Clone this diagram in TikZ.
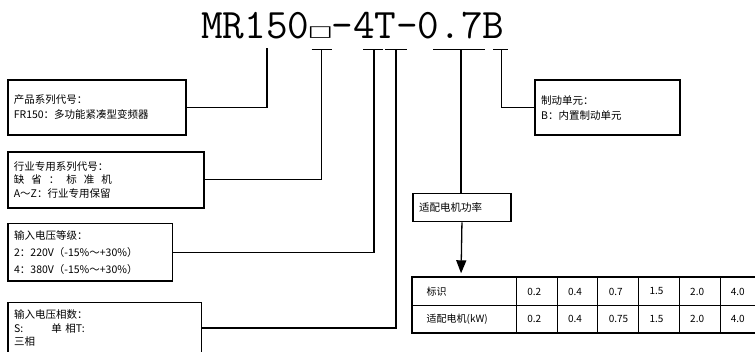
\documentclass[tikz,border=0pt]{standalone}
\usepackage{fontspec}
\newfontfamily\cjkfont{Noto Sans CJK SC}
\newfontfamily\symfont{DejaVu Sans}
\usetikzlibrary{arrows.meta, positioning}

\tikzset{
    infobox/.style={draw, line width=1.6pt, anchor=north west, inner xsep=6pt, inner ysep=0pt, align=left, font=\cjkfont\fontsize{10.5}{15}\selectfont},
    link/.style={line width=1.3pt},
    arrow/.style={-{Triangle[width=10pt,length=13pt]}, line width=1.3pt, shorten >=4pt},
    cell/.style={draw, line width=0.8pt, anchor=north west, minimum height=27.5pt, inner ysep=0pt, align=left, font=\cjkfont\fontsize{10}{12}\selectfont}
}

\begin{document}
\begin{tikzpicture}[x=1pt, y=-1pt]
\useasboundingbox (0,0) rectangle (755,351);

% model code
\node[anchor=base west, inner sep=0pt, font=\ttfamily\fontsize{42}{42}\selectfont] (code) at (201,38.3)
    {MR150\makebox[0.525em][c]{\raisebox{1.5pt}{\symfont\scalebox{0.64}[0.36]{□}}}-4T-0.7B};

\coordinate (t1) at (267,48.3);
\foreach \n/\x/\l/\r in {2/321.7/311.7/331.7, 3/374/363.3/383.3, 4/396/385/406.7, 5/461/433.3/485, 6/501.7/493.3/508.3}{
    \coordinate (t\n) at (\x,49.3);
    \draw[link] (\l,49.3) -- (\r,49.3);
}

% explanation boxes
\node[infobox, minimum width=178pt, minimum height=54.7pt, text width=166pt] (series) at (7,79.3)
    {产品系列代号：\\FR150：多功能紧凑型变频器};
\node[infobox, minimum width=196pt, minimum height=56pt, text width=184pt, font=\cjkfont\fontsize{10.5}{13.5}\selectfont] (industry) at (7,151)
    {行业专用系列代号：\\缺\hspace{7pt}省\hspace{7pt}：\hspace{7pt}标\hspace{7pt}准\hspace{7pt}机\\A～Z：行业专用保留};
\node[infobox, minimum width=164.4pt, minimum height=57.3pt, text width=152.4pt, font=\cjkfont\fontsize{10.5}{17}\selectfont] (voltage) at (7.3,222.7)
    {输入电压等级：\\2：220V（-15\%～+30\%）\\4：380V（-15\%～+30\%）};
\node[infobox, minimum width=193.4pt, minimum height=51pt, text width=181.4pt, font=\cjkfont\fontsize{10.5}{13.5}\selectfont] (phase) at (7.3,301.7)
    {输入电压相数：\\S:\hspace{28pt}单 相T:\\三相};
\node[infobox, minimum width=97.7pt, minimum height=28pt, text width=85.7pt] (power) at (412.3,192.7)
    {适配电机功率};
\node[infobox, minimum width=145pt, minimum height=55pt, text width=133pt] (brake) at (534.3,79.3)
    {制动单元：\\B：内置制动单元};

% connectors
\draw[link] (t1) |- (series.east);
\draw[link] (t2) |- (industry.east);
\draw[link] (t3) |- (voltage.east);
\draw[link] (t4) |- (phase.east);
\draw[link] (t6) |- (brake.west);
\draw[link] (t5) -- (t5 |- power.north);

% table
\node[cell, minimum width=103.7pt, text width=75.7pt, inner xsep=14pt] (h1) at (412.3,277.3) {标识};
\node[cell, minimum width=103.7pt, text width=75.7pt, inner xsep=14pt] (h2) at (412.3,304.8) {适配电机(kW)};
\foreach \i/\a/\b in {1/0.2/0.2, 2/0.4/0.4, 3/0.7/0.75, 4/1.5/1.5, 5/2.0/2.0, 6/4.0/4.0}{
    \node[cell, minimum width=40.7pt, text width=18.7pt, inner xsep=11pt] (v\i a) at (516+40.7*\i-40.7,277.3) {\a};
    \node[cell, minimum width=40.7pt, text width=18.7pt, inner xsep=11pt] (v\i b) at (516+40.7*\i-40.7,304.8) {\b};
}
\draw[line width=2pt] (v6a.north east) -- (h1.north west) -- (h2.south west) -- (v6b.south east);
\coordinate (tab) at (t5 |- h1.north);

\draw[arrow] (power.south) -- (tab);
\end{tikzpicture}
\end{document}
